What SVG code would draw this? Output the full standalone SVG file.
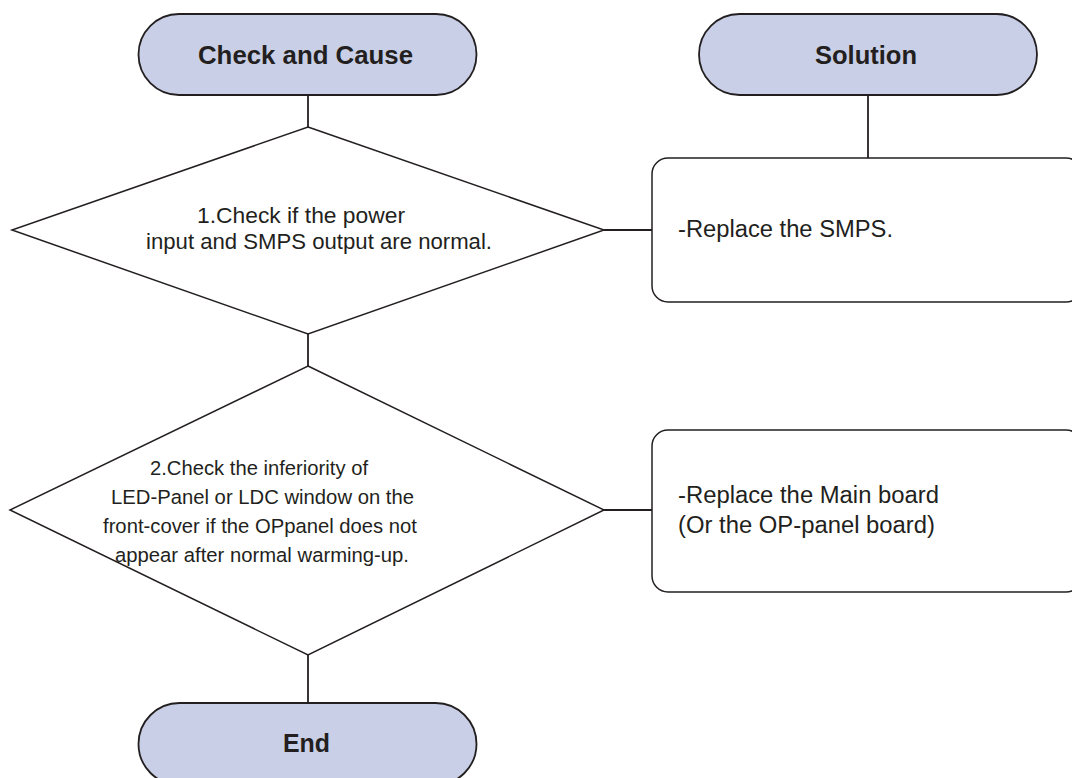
<svg xmlns="http://www.w3.org/2000/svg" width="1072" height="778" viewBox="0 0 1072 778">
  <style>
    .term { fill: #c9cfe6; stroke: #231f20; stroke-width: 1.8; }
    .shape { fill: #ffffff; stroke: #231f20; stroke-width: 1.5; }
    .wire { fill: none; stroke: #231f20; stroke-width: 1.8; }
    .title { font-family: "Liberation Sans", Arial, sans-serif; font-weight: bold; font-size: 25px; fill: #231f20; }
    .body { font-family: "Liberation Sans", Arial, sans-serif; font-size: 22px; fill: #231f20; }
    .side { font-size: 23px; }
    .small { font-size: 20.5px; }
  </style>
  <rect width="1072" height="778" fill="#ffffff"/>

  <!-- connectors -->
  <g id="connectors">
    <line class="wire" x1="308" y1="95" x2="308" y2="127"/>
    <line class="wire" x1="308" y1="334" x2="308" y2="366"/>
    <line class="wire" x1="308" y1="655" x2="308" y2="703"/>
    <line class="wire" x1="868" y1="95" x2="868" y2="158"/>
    <line class="wire" x1="604" y1="230" x2="652" y2="230"/>
    <line class="wire" x1="604" y1="510" x2="652" y2="510"/>
  </g>

  <g id="check-and-cause">
    <rect class="term" x="138.5" y="14" width="338" height="81" rx="40.5"/>
    <text class="title" x="198" y="64" textLength="215" lengthAdjust="spacingAndGlyphs">Check and Cause</text>
  </g>

  <g id="solution">
    <rect class="term" x="699" y="14" width="338" height="81" rx="40.5"/>
    <text class="title" x="815" y="64" textLength="102" lengthAdjust="spacingAndGlyphs">Solution</text>
  </g>

  <g id="check-1">
    <polygon class="shape" points="308,127 604,230 308,334 12,230"/>
    <text class="body" x="197" y="223" textLength="208" lengthAdjust="spacingAndGlyphs">1.Check if the power</text>
    <text class="body" x="146" y="249" textLength="346" lengthAdjust="spacingAndGlyphs">input and SMPS output are normal.</text>
  </g>

  <g id="solution-1">
    <rect class="shape" x="652" y="158" width="430" height="144" rx="16"/>
    <text class="body side" x="678" y="237" textLength="215" lengthAdjust="spacingAndGlyphs">-Replace the SMPS.</text>
  </g>

  <g id="check-2">
    <polygon class="shape" points="308,366 604,510 308,655 10,510"/>
    <text class="body small" x="150" y="475" textLength="218" lengthAdjust="spacingAndGlyphs">2.Check the inferiority of</text>
    <text class="body small" x="111" y="504" textLength="303" lengthAdjust="spacingAndGlyphs">LED-Panel or LDC window on the</text>
    <text class="body small" x="103" y="533" textLength="314" lengthAdjust="spacingAndGlyphs">front-cover if the OPpanel does not</text>
    <text class="body small" x="115" y="562" textLength="294" lengthAdjust="spacingAndGlyphs">appear after normal warming-up.</text>
  </g>

  <g id="solution-2">
    <rect class="shape" x="652" y="430" width="430" height="162" rx="16"/>
    <text class="body side" x="678" y="503" textLength="261" lengthAdjust="spacingAndGlyphs">-Replace the Main board</text>
    <text class="body side" x="678" y="533" textLength="257" lengthAdjust="spacingAndGlyphs">(Or the OP-panel board)</text>
  </g>

  <g id="end">
    <rect class="term" x="138.5" y="703" width="338" height="82" rx="41"/>
    <text class="title" x="283" y="752" textLength="47" lengthAdjust="spacingAndGlyphs">End</text>
  </g>
</svg>
